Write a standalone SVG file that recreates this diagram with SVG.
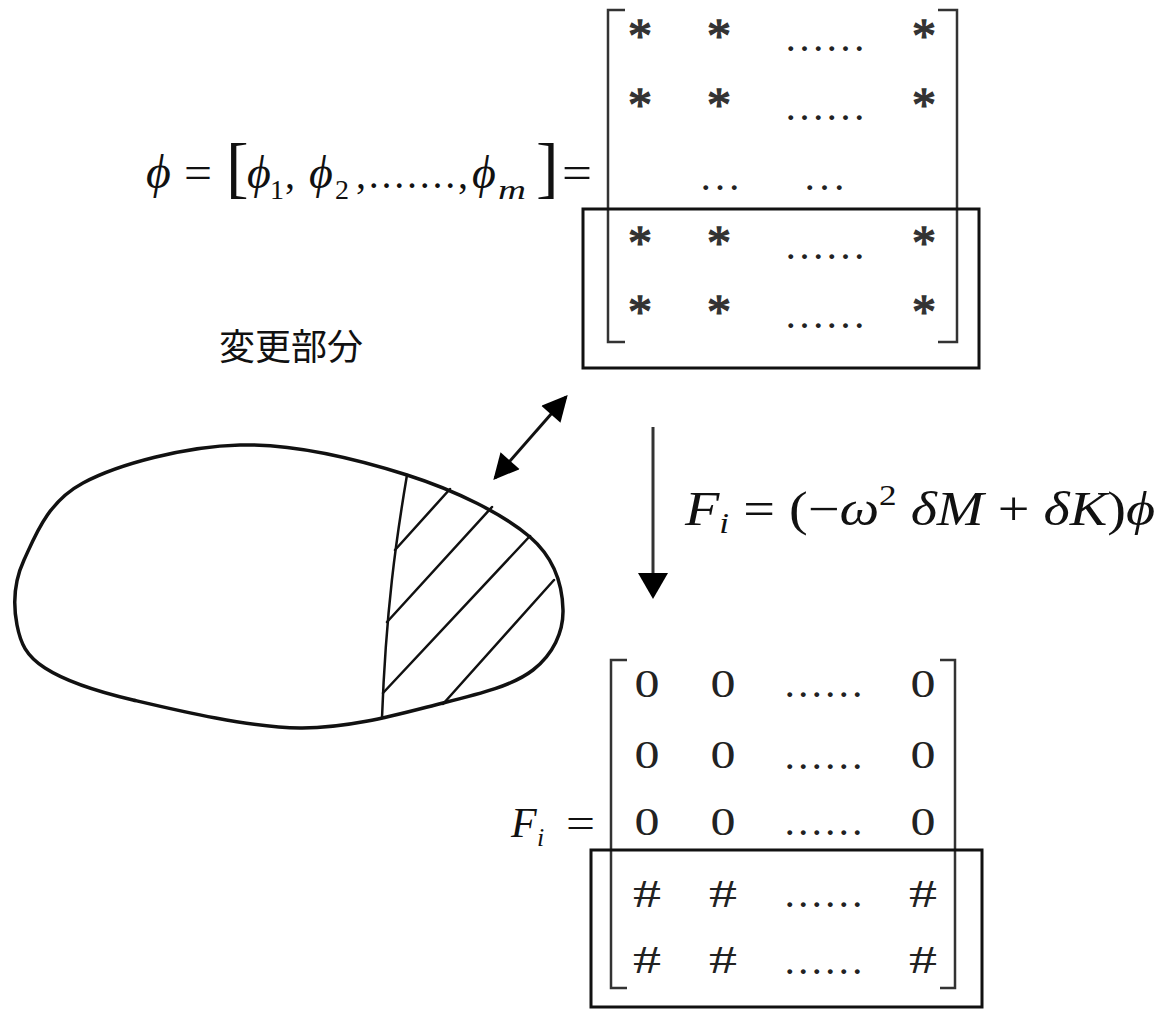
<svg xmlns="http://www.w3.org/2000/svg" width="1161" height="1009" viewBox="0 0 1161 1009">
  <defs>
    <marker id="dhead" viewBox="0 0 10 10" refX="9" refY="5" markerWidth="9" markerHeight="8.5" orient="auto-start-reverse">
      <path d="M0,0 L10,5 L0,10 z" fill="#000"/>
    </marker>
  </defs>
  <style>
    .eq { font-family: "Liberation Serif", "DejaVu Serif", serif; fill: #111; }
    .it { font-style: italic; }
    .cell { font-family: "Liberation Serif", "DejaVu Serif", serif; fill: #222; text-anchor: middle; }
    .star { fill: #333; stroke: #333; stroke-width: 1.3; }
    .dots { font-family: "Liberation Serif", "DejaVu Serif", serif; font-weight: bold; fill: #222; }
    .brk { fill: none; stroke: #333; stroke-width: 2.5; }
    .box { fill: none; stroke: #111; stroke-width: 3; }
    .outline { fill: none; stroke: #111; stroke-width: 3.5; stroke-linejoin: round; }
    .hatch { fill: none; stroke: #111; stroke-width: 2.5; stroke-linecap: round; }
    .cjk { font-family: "Liberation Serif", "Noto Sans CJK JP", serif; font-size: 36px; fill: #111; }
  </style>
  <rect width="1161" height="1009" fill="#fff"/>

  <!-- mode shape matrix phi -->
  <g id="phi-matrix">
    <text class="eq it" x="146" y="188" font-size="48">ϕ</text>
    <text class="eq" x="184" y="188" font-size="46" textLength="28" lengthAdjust="spacingAndGlyphs">=</text>
    <text class="eq" x="226" y="190" font-size="68">[</text>
    <text class="eq it" x="247" y="188" font-size="46">ϕ</text>
    <text class="eq" x="270" y="199" font-size="28">1</text>
    <text class="eq" x="285" y="188" font-size="40">,</text>
    <text class="eq it" x="309" y="188" font-size="46">ϕ</text>
    <text class="eq" x="335" y="199" font-size="28">2</text>
    <text class="eq" x="356" y="188" font-size="40" textLength="112" lengthAdjust="spacing">,.......,</text>
    <text class="eq it" x="472" y="188" font-size="46">ϕ</text>
    <text class="eq it" x="498" y="199" font-size="28" textLength="28" lengthAdjust="spacingAndGlyphs">m</text>
    <text class="eq" x="536" y="190" font-size="68">]</text>
    <text class="eq" x="562" y="188" font-size="46" textLength="30" lengthAdjust="spacingAndGlyphs">=</text>

    <!-- brackets -->
    <path class="brk" d="M625,10 H608 V342 H625"/>
    <path class="brk" d="M938,10 H957 V342 H938"/>

    <!-- entries -->
    <g class="cell star" font-size="48">
      <text x="640" y="52">*</text><text x="719" y="52">*</text><text x="924" y="52">*</text>
      <text x="640" y="121">*</text><text x="719" y="121">*</text><text x="924" y="121">*</text>
      <text x="640" y="259">*</text><text x="719" y="259">*</text><text x="924" y="259">*</text>
      <text x="640" y="328">*</text><text x="719" y="328">*</text><text x="924" y="328">*</text>
    </g>
    <g class="dots" font-size="30">
      <text x="787" y="51" textLength="76" lengthAdjust="spacing">......</text>
      <text x="787" y="120" textLength="76" lengthAdjust="spacing">......</text>
      <text x="702" y="190" textLength="36" lengthAdjust="spacing">...</text>
      <text x="806" y="190" textLength="37" lengthAdjust="spacing">...</text>
      <text x="787" y="259" textLength="76" lengthAdjust="spacing">......</text>
      <text x="787" y="328" textLength="76" lengthAdjust="spacing">......</text>
    </g>
    <rect class="box" x="583" y="209" width="396" height="159"/>
  </g>

  <!-- modified region label -->
  <g id="label">
    <text class="cjk" x="219" y="360">変更部分</text>
  </g>

  <!-- structure outline with hatched modified part -->
  <g id="structure">
    <path class="outline" d="M17,625 C13.5,607 13,583.7 24,560 C35,536.3 47,502.2 83,483 C119,463.8 186,446.3 240,445 C294,443.7 358.7,459.7 407,475 C455.3,490.3 504,514.5 530,537 C556,559.5 562.5,587.8 563,610 C563.5,632.2 553,654.5 533,670 C513,685.5 481.8,693.3 443,703 C404.2,712.7 351.7,728.5 300,728 C248.3,727.5 175.5,710 133,700 C90.5,690 64.3,680.5 45,668 C25.7,655.5 20.5,643 17,625 Z"/>
    <path class="hatch" d="M407,475 C396,540 386,610 382,718"/>
    <path class="hatch" d="M395,550 L450,489"/>
    <path class="hatch" d="M387,622 L492,507"/>
    <path class="hatch" d="M383,693 L530,536"/>
    <path class="hatch" d="M443,704 L554,580"/>
  </g>

  <!-- connectors -->
  <g id="connectors">
    <line x1="495" y1="478" x2="566" y2="397" stroke="#111" stroke-width="3" marker-start="url(#dhead)" marker-end="url(#dhead)"/>
    <line x1="653" y1="427" x2="653" y2="576" stroke="#333" stroke-width="3"/>
    <polygon points="638,573 668,573 653,599" fill="#000"/>
  </g>

  <!-- force equation -->
  <g id="force-eq">
    <text class="eq" x="685" y="525" font-size="48" textLength="470" lengthAdjust="spacingAndGlyphs"><tspan class="it">F</tspan><tspan class="it" font-size="30" dy="8">i</tspan><tspan dy="-8"> = (−</tspan><tspan class="it">ω</tspan><tspan font-size="30" dy="-20">2</tspan><tspan class="it" dy="20"> δM</tspan><tspan> + </tspan><tspan class="it">δK</tspan><tspan>)</tspan><tspan class="it">ϕ</tspan></text>
  </g>

  <!-- force matrix Fi -->
  <g id="force-matrix">
    <text class="eq it" x="511" y="837" font-size="42">F</text>
    <text class="eq it" x="537" y="846" font-size="26">i</text>
    <text class="eq" x="566" y="837" font-size="42" textLength="29" lengthAdjust="spacingAndGlyphs">=</text>

    <path class="brk" d="M627,660 H611 V988 H627"/>
    <path class="brk" d="M940,660 H955 V988 H940"/>

    <g class="cell" font-size="41">
      <text x="647" y="697" textLength="25" lengthAdjust="spacingAndGlyphs">0</text><text x="723" y="697" textLength="25" lengthAdjust="spacingAndGlyphs">0</text><text x="923" y="697" textLength="25" lengthAdjust="spacingAndGlyphs">0</text>
      <text x="647" y="768" textLength="25" lengthAdjust="spacingAndGlyphs">0</text><text x="723" y="768" textLength="25" lengthAdjust="spacingAndGlyphs">0</text><text x="923" y="768" textLength="25" lengthAdjust="spacingAndGlyphs">0</text>
      <text x="647" y="835" textLength="25" lengthAdjust="spacingAndGlyphs">0</text><text x="723" y="835" textLength="25" lengthAdjust="spacingAndGlyphs">0</text><text x="923" y="835" textLength="25" lengthAdjust="spacingAndGlyphs">0</text>
      <text x="647" y="907" textLength="28" lengthAdjust="spacingAndGlyphs">#</text><text x="723" y="907" textLength="28" lengthAdjust="spacingAndGlyphs">#</text><text x="923" y="907" textLength="28" lengthAdjust="spacingAndGlyphs">#</text>
      <text x="647" y="973" textLength="28" lengthAdjust="spacingAndGlyphs">#</text><text x="723" y="973" textLength="28" lengthAdjust="spacingAndGlyphs">#</text><text x="923" y="973" textLength="28" lengthAdjust="spacingAndGlyphs">#</text>
    </g>
    <g class="dots" font-size="30">
      <text x="786" y="697" textLength="75" lengthAdjust="spacing">......</text>
      <text x="786" y="769" textLength="75" lengthAdjust="spacing">......</text>
      <text x="786" y="835" textLength="75" lengthAdjust="spacing">......</text>
      <text x="786" y="907" textLength="75" lengthAdjust="spacing">......</text>
      <text x="786" y="974" textLength="75" lengthAdjust="spacing">......</text>
    </g>
    <rect class="box" x="591" y="850" width="391" height="157"/>
  </g>
</svg>
